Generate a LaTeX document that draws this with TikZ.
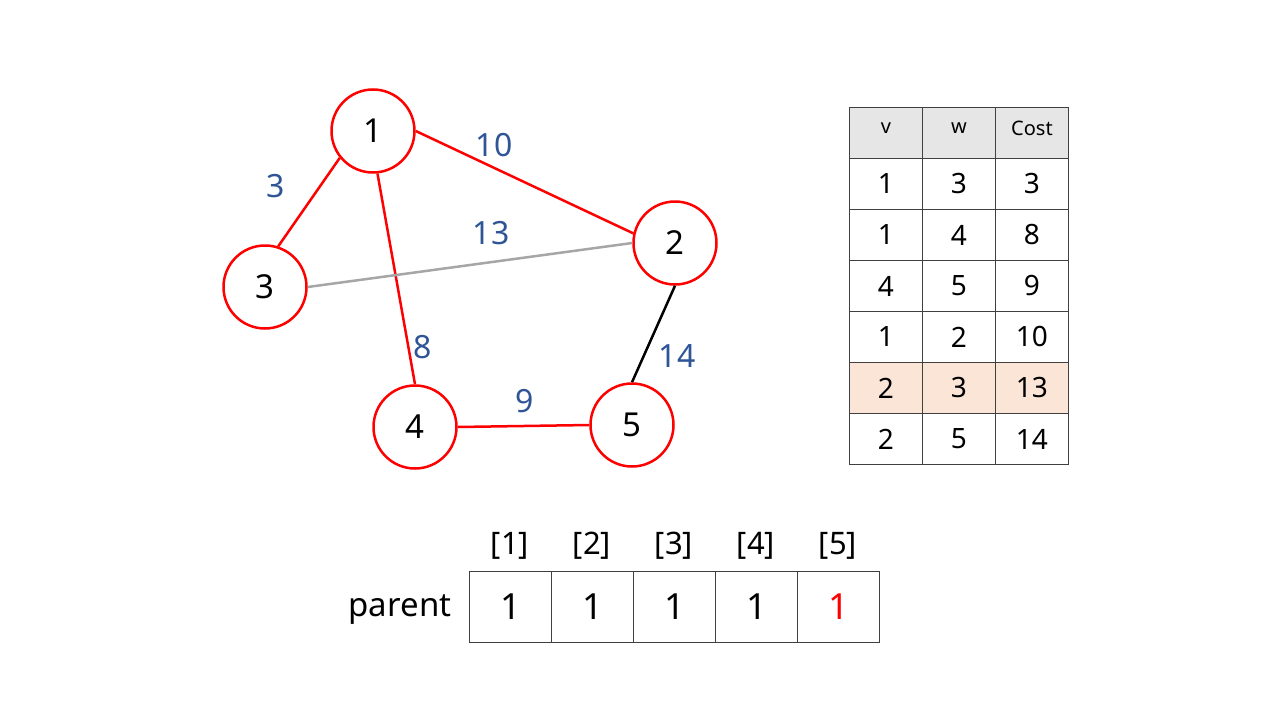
\documentclass[tikz,border=0pt]{standalone}
\usepackage{fontspec}
\setmainfont{Noto Sans}
\definecolor{edgeblue}{RGB}{47,85,151}
\definecolor{hdrgray}{RGB}{231,230,230}
\definecolor{peach}{RGB}{251,229,214}
\definecolor{linegray}{RGB}{166,166,166}
\definecolor{gridline}{RGB}{64,64,64}
\tikzset{
  vert/.style={circle, draw=red, line width=2.5pt, minimum size=83pt, inner sep=0pt, fill=white, font=\fontsize{33}{36}\selectfont},
  redge/.style={draw=red, line width=2.5pt},
  wlab/.style={text=edgeblue, font=\fontsize{32}{36}\selectfont},
  cell/.style={draw=gridline, line width=0.9pt, minimum width=73pt, minimum height=51pt, inner sep=0pt, anchor=north west, font=\fontsize{28}{32}\selectfont},
  hcell/.style={cell, fill=hdrgray},
  htext/.style={font=\fontsize{20}{24}\selectfont},
  pcell/.style={draw=gridline, line width=0.9pt, minimum width=82pt, minimum height=71pt, inner sep=0pt, anchor=north west, font=\fontsize{36}{40}\selectfont},
  idx/.style={font=\fontsize{31}{34}\selectfont}
}
\begin{document}
\begin{tikzpicture}[x=1pt,y=-1pt]
\useasboundingbox[fill=white] (0,0) rectangle (1280,720);
% vertices
\node[vert] (n1) at (373,131) {1};
\node[vert] (n2) at (675,243) {2};
\node[vert] (n3) at (265,287) {3};
\node[vert] (n4) at (415,427) {4};
\node[vert] (n5) at (632,425) {5};
% edges
\draw[redge] (n1.219) -- (n3.72);
\draw[redge] (n1.east) -- (n2.167);
\draw[redge] (n1.276) -- (n4.north);
\draw[redge] (n4.east) -- (n5.west);
\draw[draw=linegray, line width=2.5pt] (n3.east) -- (n2.west);
\draw[draw=black, line width=2.5pt] (n2.south) -- (n5.north);
\node[wlab] (w3) at (276,186) {3};
\node[wlab] (w10) at (494,145) {10};
\node[wlab] (w13) at (491,233) {13};
\node[wlab] (w8) at (423,347) {8};
\node[wlab] (w14) at (677,356) {14};
\node[wlab] (w9) at (525,401) {9};
% table
\node[hcell] (h1) at (849,107) {};
\node[hcell] (h2) at (922,107) {};
\node[hcell] (h3) at (995,107) {};
\node[htext] (t1) at ([yshift=5pt]h1.center) {v};
\node[htext] (t2) at ([yshift=5pt]h2.center) {w};
\node[htext] (t3) at ([yshift=5pt]h3.center) {Cost};
\node[cell] (r1a) at (849,158) {1};
\node[cell] (r1b) at (922,158) {3};
\node[cell] (r1c) at (995,158) {3};
\node[cell] (r2a) at (849,209) {1};
\node[cell] (r2b) at (922,209) {4};
\node[cell] (r2c) at (995,209) {8};
\node[cell] (r3a) at (849,260) {4};
\node[cell] (r3b) at (922,260) {5};
\node[cell] (r3c) at (995,260) {9};
\node[cell] (r4a) at (849,311) {1};
\node[cell] (r4b) at (922,311) {2};
\node[cell] (r4c) at (995,311) {10};
\node[cell, fill=peach] (r5a) at (849,362) {2};
\node[cell, fill=peach] (r5b) at (922,362) {3};
\node[cell, fill=peach] (r5c) at (995,362) {13};
\node[cell] (r6a) at (849,413) {2};
\node[cell] (r6b) at (922,413) {5};
\node[cell] (r6c) at (995,413) {14};
% parent array
\node[idx] (i1) at (510,546) {[1]};
\node[idx] (i2) at (592,546) {[2]};
\node[idx] (i3) at (674,546) {[3]};
\node[idx] (i4) at (756,546) {[4]};
\node[idx] (i5) at (838,546) {[5]};
\node[font=\fontsize{33}{36}\selectfont] (plab) at (400,610) {parent};
\node[pcell] (p1) at (469,571) {1};
\node[pcell] (p2) at (551,571) {1};
\node[pcell] (p3) at (633,571) {1};
\node[pcell] (p4) at (715,571) {1};
\node[pcell, text=red] (p5) at (797,571) {1};
\end{tikzpicture}
\end{document}
